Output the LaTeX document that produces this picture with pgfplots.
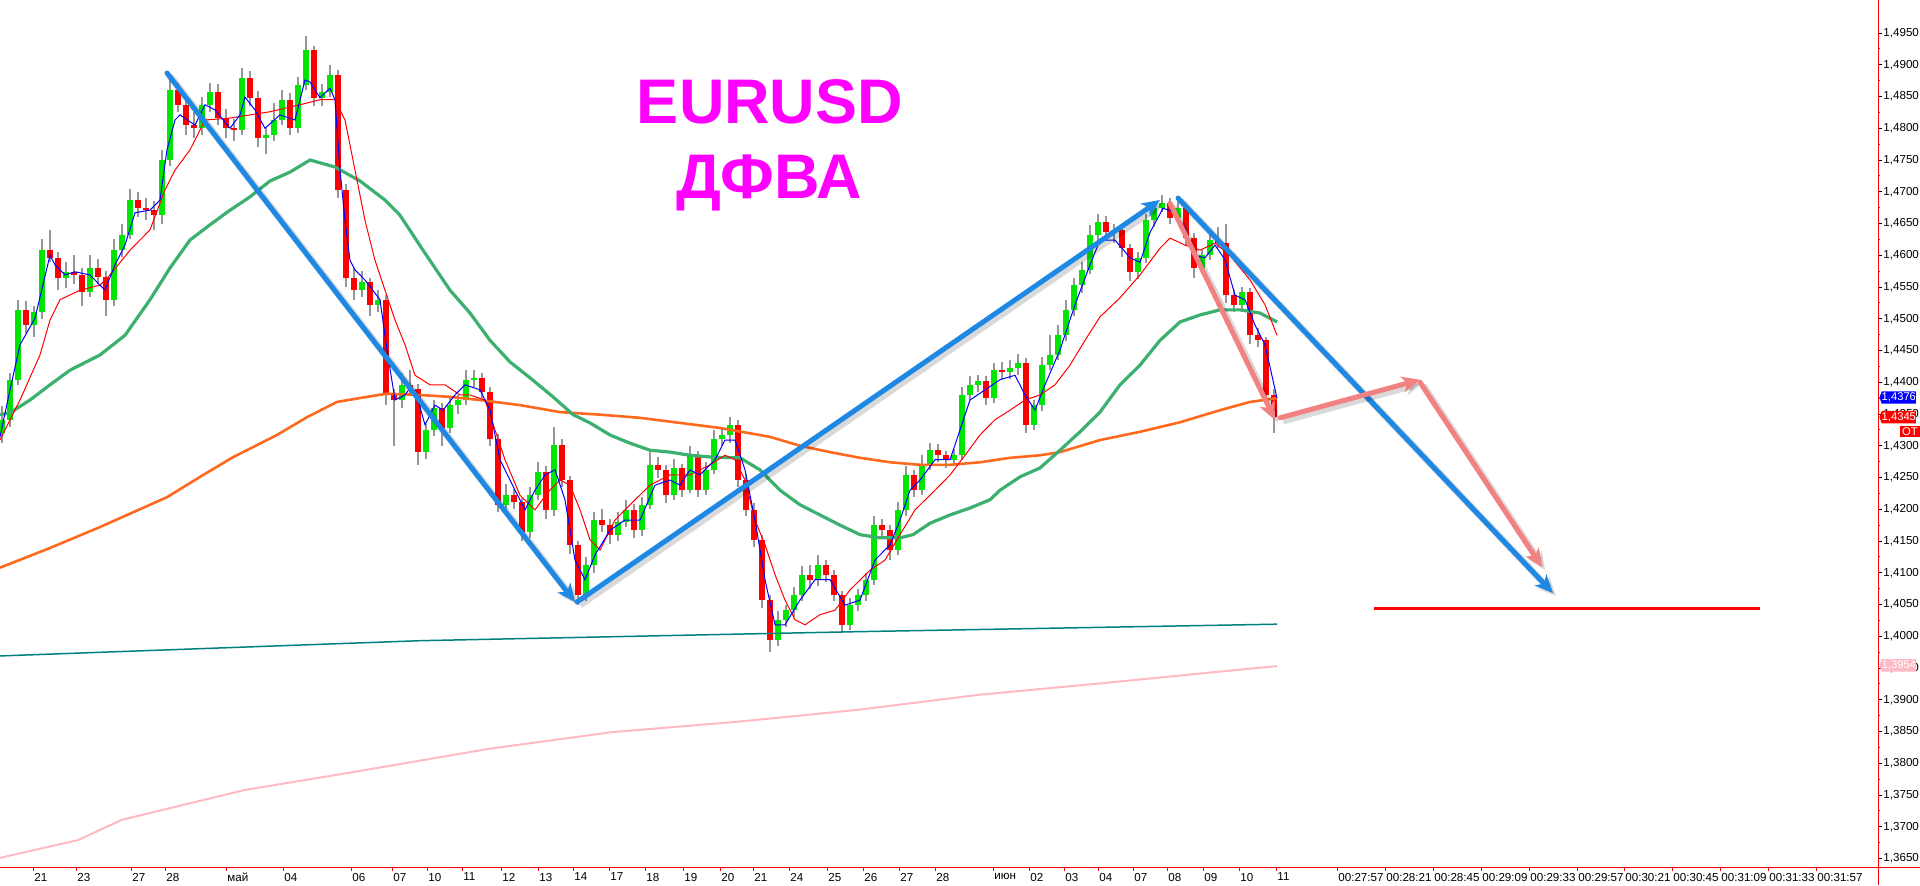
\documentclass[border=0pt]{standalone}
\usepackage{fontspec}
\setmainfont{Liberation Sans}
\usepackage{pgfplots}
\pgfplotsset{compat=1.18}
\usepackage{pgfplotstable}
\usetikzlibrary{arrows.meta,shapes.symbols}

\definecolor{candleup}{RGB}{0,230,0}
\definecolor{candledn}{RGB}{255,0,0}
\definecolor{wick}{RGB}{150,150,150}
\definecolor{maBlue}{RGB}{0,0,255}
\definecolor{maRed}{RGB}{255,0,0}
\definecolor{maGreen}{RGB}{60,176,110}
\definecolor{maOrange}{RGB}{255,105,30}
\definecolor{maTeal}{RGB}{0,128,128}
\definecolor{maPink}{RGB}{255,185,195}
\definecolor{arrBlue}{RGB}{30,136,229}
\definecolor{arrPink}{RGB}{242,130,130}
\definecolor{titlecol}{RGB}{255,0,255}

% 4h candles, x in screen columns
\pgfplotstableread{
x o h l c
2 1.4320 1.4362 1.4305 1.4341
10 1.4341 1.4415 1.4330 1.4404
18 1.4404 1.4530 1.4395 1.4514
26 1.4514 1.4528 1.4478 1.4490
34 1.4490 1.4520 1.4472 1.4511
42 1.4511 1.4625 1.4500 1.4608
50 1.4608 1.4640 1.4590 1.4596
58 1.4596 1.4605 1.4545 1.4564
66 1.4564 1.4590 1.4548 1.4574
74 1.4574 1.4600 1.4555 1.4569
82 1.4569 1.4580 1.4520 1.4542
90 1.4542 1.4600 1.4535 1.4580
98 1.4580 1.4595 1.4555 1.4566
106 1.4566 1.4575 1.4505 1.4530
114 1.4530 1.4625 1.4520 1.4608
122 1.4608 1.4650 1.4598 1.4632
130 1.4632 1.4705 1.4625 1.4687
138 1.4687 1.4700 1.4660 1.4674
146 1.4674 1.4690 1.4655 1.4671
154 1.4671 1.4685 1.4640 1.4663
162 1.4663 1.4765 1.4650 1.4750
170 1.4750 1.4880 1.4740 1.4860
178 1.4860 1.4872 1.4825 1.4837
186 1.4837 1.4850 1.4790 1.4805
194 1.4805 1.4825 1.4785 1.4800
202 1.4800 1.4850 1.4790 1.4837
210 1.4837 1.4872 1.4825 1.4857
218 1.4857 1.4870 1.4805 1.4816
226 1.4816 1.4830 1.4785 1.4800
234 1.4800 1.4815 1.4780 1.4797
242 1.4797 1.4895 1.4790 1.4879
250 1.4879 1.4890 1.4835 1.4848
258 1.4848 1.4858 1.4770 1.4785
266 1.4785 1.4800 1.4760 1.4789
274 1.4789 1.4840 1.4780 1.4813
282 1.4813 1.4860 1.4805 1.4845
290 1.4845 1.4855 1.4790 1.4800
298 1.4800 1.4880 1.4792 1.4868
306 1.4868 1.4945 1.4860 1.4923
314 1.4923 1.4930 1.4835 1.4848
322 1.4848 1.4870 1.4835 1.4857
330 1.4857 1.4900 1.4850 1.4884
338 1.4884 1.4892 1.4690 1.4703
346 1.4703 1.4712 1.4550 1.4564
354 1.4564 1.4580 1.4530 1.4545
362 1.4545 1.4575 1.4535 1.4558
370 1.4558 1.4565 1.4505 1.4522
378 1.4522 1.4545 1.4510 1.4530
386 1.4530 1.4538 1.4365 1.4380
394 1.4380 1.4390 1.4300 1.4372
402 1.4372 1.4415 1.4360 1.4396
410 1.4396 1.4420 1.4380 1.4390
418 1.4390 1.4398 1.4270 1.4290
426 1.4290 1.4335 1.4280 1.4325
434 1.4325 1.4372 1.4315 1.4360
442 1.4360 1.4368 1.4300 1.4328
450 1.4328 1.4375 1.4320 1.4364
458 1.4364 1.4380 1.4350 1.4372
466 1.4372 1.4420 1.4365 1.4404
474 1.4404 1.4420 1.4392 1.4407
482 1.4407 1.4415 1.4375 1.4385
490 1.4385 1.4392 1.4300 1.4311
498 1.4311 1.4318 1.4195 1.4207
506 1.4207 1.4240 1.4198 1.4222
514 1.4222 1.4232 1.4200 1.4211
522 1.4211 1.4218 1.4150 1.4164
530 1.4164 1.4235 1.4155 1.4222
538 1.4222 1.4275 1.4215 1.4259
546 1.4259 1.4268 1.4185 1.4199
554 1.4199 1.4330 1.4190 1.4301
562 1.4301 1.4310 1.4235 1.4246
570 1.4246 1.4252 1.4130 1.4144
578 1.4144 1.4150 1.4050 1.4065
586 1.4065 1.4125 1.4055 1.4112
594 1.4112 1.4195 1.4100 1.4183
602 1.4183 1.4200 1.4165 1.4175
610 1.4175 1.4185 1.4145 1.4160
618 1.4160 1.4195 1.4150 1.4180
626 1.4180 1.4215 1.4172 1.4199
634 1.4199 1.4208 1.4155 1.4167
642 1.4167 1.4220 1.4158 1.4207
650 1.4207 1.4290 1.4200 1.4270
658 1.4270 1.4282 1.4250 1.4262
666 1.4262 1.4270 1.4210 1.4222
674 1.4222 1.4280 1.4215 1.4265
682 1.4265 1.4272 1.4220 1.4230
690 1.4230 1.4300 1.4225 1.4285
698 1.4285 1.4292 1.4220 1.4230
706 1.4230 1.4275 1.4222 1.4262
714 1.4262 1.4325 1.4255 1.4311
722 1.4311 1.4328 1.4300 1.4317
730 1.4317 1.4345 1.4305 1.4333
738 1.4333 1.4340 1.4235 1.4246
746 1.4246 1.4255 1.4190 1.4199
754 1.4199 1.4210 1.4140 1.4152
762 1.4152 1.4160 1.4045 1.4057
770 1.4057 1.4065 1.3975 1.3994
778 1.3994 1.4040 1.3985 1.4026
786 1.4026 1.4050 1.4015 1.4041
794 1.4041 1.4078 1.4030 1.4065
802 1.4065 1.4110 1.4055 1.4097
810 1.4097 1.4112 1.4075 1.4089
818 1.4089 1.4128 1.4080 1.4112
826 1.4112 1.4120 1.4085 1.4097
834 1.4097 1.4105 1.4055 1.4065
842 1.4065 1.4072 1.4005 1.4018
850 1.4018 1.4060 1.4010 1.4049
858 1.4049 1.4075 1.4040 1.4065
866 1.4065 1.4100 1.4055 1.4089
874 1.4089 1.4190 1.4080 1.4175
882 1.4175 1.4185 1.4155 1.4167
890 1.4167 1.4175 1.4120 1.4136
898 1.4136 1.4212 1.4128 1.4199
906 1.4199 1.4268 1.4190 1.4254
914 1.4254 1.4262 1.4220 1.4230
922 1.4230 1.4285 1.4222 1.4270
930 1.4270 1.4305 1.4262 1.4293
938 1.4293 1.4302 1.4275 1.4285
946 1.4285 1.4292 1.4265 1.4278
954 1.4278 1.4295 1.4270 1.4285
962 1.4285 1.4392 1.4278 1.4380
970 1.4380 1.4410 1.4372 1.4396
978 1.4396 1.4412 1.4385 1.4402
986 1.4402 1.4410 1.4365 1.4375
994 1.4375 1.4430 1.4368 1.4419
1002 1.4419 1.4432 1.4405 1.4416
1010 1.4416 1.4435 1.4405 1.4422
1018 1.4422 1.4445 1.4412 1.4430
1026 1.4430 1.4438 1.4320 1.4333
1034 1.4333 1.4372 1.4325 1.4364
1042 1.4364 1.4440 1.4355 1.4427
1050 1.4427 1.4475 1.4420 1.4443
1058 1.4443 1.4490 1.4435 1.4474
1066 1.4474 1.4530 1.4465 1.4514
1074 1.4514 1.4565 1.4505 1.4553
1082 1.4553 1.4590 1.4540 1.4577
1090 1.4577 1.4648 1.4570 1.4632
1098 1.4632 1.4665 1.4620 1.4652
1106 1.4652 1.4662 1.4625 1.4636
1114 1.4636 1.4650 1.4620 1.4640
1122 1.4640 1.4645 1.4598 1.4611
1130 1.4611 1.4618 1.4560 1.4574
1138 1.4574 1.4605 1.4562 1.4596
1146 1.4596 1.4665 1.4588 1.4655
1154 1.4655 1.4685 1.4645 1.4674
1162 1.4674 1.4695 1.4668 1.4682
1170 1.4682 1.4690 1.4650 1.4659
1178 1.4659 1.4685 1.4652 1.4674
1186 1.4674 1.4680 1.4615 1.4627
1194 1.4627 1.4635 1.4565 1.4580
1202 1.4580 1.4610 1.4570 1.4600
1210 1.4600 1.4632 1.4592 1.4624
1218 1.4624 1.4645 1.4612 1.4620
1226 1.4620 1.4650 1.4525 1.4538
1234 1.4538 1.4545 1.4510 1.4522
1242 1.4522 1.4550 1.4515 1.4542
1250 1.4542 1.4548 1.4460 1.4474
1258 1.4474 1.4485 1.4455 1.4466
1266 1.4466 1.4472 1.4370 1.4380
1274 1.4380 1.4390 1.4320 1.4345
}\candles

\tikzset{
  arr/.style={line width=2.5pt, line cap=round, -{Stealth[length=9pt,width=8pt,inset=2.5pt]}},
  shad/.style={line width=3.5pt, black, opacity=0.15, xshift=1.5pt, yshift=-1.5pt, -{Stealth[length=9pt,width=8pt,inset=2.5pt]}},
}

\begin{document}
\begin{tikzpicture}
\begin{axis}[
  scale only axis, width=939pt, height=433.5pt,
  xmin=0, xmax=1878, ymin=1.36366, ymax=1.50020,
  axis x line*=bottom, axis y line*=right,
  axis line style={draw=red, line width=0.5pt, -},
  clip=false,
  tick align=outside,
  major tick length=2pt, minor tick length=1pt,
  ticklabel style={font=\fontsize{5.8}{6}\selectfont},
  ytick={1.365,1.370,1.375,1.380,1.385,1.390,1.395,1.400,1.405,1.410,1.415,1.420,1.425,1.430,1.435,1.440,1.445,1.450,1.455,1.460,1.465,1.470,1.475,1.480,1.485,1.490,1.495},
  minor y tick num=1,
  y tick style={draw=black, line width=0.5pt},
  minor y tick style={draw=red},
  yticklabel={\pgfmathprintnumber[fixed, fixed zerofill, precision=4, use comma, assume math mode=true]{\tick}},
  yticklabel style={anchor=west, inner sep=0pt, xshift=0.5pt},
  xtick={33,76,131,165,226,283,351,392,427,462,501,538,573,609,645,683,720,753,789,827,863,899,935,993,1029,1064,1098,1133,1167,1203,1239,1276,1337,1385,1433,1481,1529,1577,1624,1672,1720,1768,1816},
  xticklabels={21,23,27,28,май,04,06,07,10,11,12,13,14,17,18,19,20,21,24,25,26,27,28,июн,02,03,04,07,08,09,10,11,00:27:57,00:28:21,00:28:45,00:29:09,00:29:33,00:29:57,00:30:21,00:30:45,00:31:09,00:31:33,00:31:57},
  x tick style={draw=red, line width=0.5pt},
  xticklabel style={anchor=north west, inner sep=0pt, xshift=0.5pt, yshift=-0.8pt},
]

% wicks
\addplot[draw=none, mark=none, forget plot,
  error bars/.cd, y dir=both, y explicit, error mark=none,
  error bar style={draw=wick, line width=0.6pt}]
  table[x=x, y expr={(\thisrow{h}+\thisrow{l})/2}, y error expr={(\thisrow{h}-\thisrow{l})/2}] {\candles};
% bullish bodies
\addplot[draw=none, mark=none, forget plot, unbounded coords=discard,
  error bars/.cd, y dir=both, y explicit, error mark=none,
  error bar style={draw=candleup, line width=2.8pt}]
  table[x=x, y expr={\thisrow{c}>=\thisrow{o} ? (\thisrow{o}+\thisrow{c})/2 : nan}, y error expr={abs(\thisrow{c}-\thisrow{o})/2}] {\candles};
% bearish bodies
\addplot[draw=none, mark=none, forget plot, unbounded coords=discard,
  error bars/.cd, y dir=both, y explicit, error mark=none,
  error bar style={draw=candledn, line width=2.8pt}]
  table[x=x, y expr={\thisrow{c}<\thisrow{o} ? (\thisrow{o}+\thisrow{c})/2 : nan}, y error expr={abs(\thisrow{c}-\thisrow{o})/2}] {\candles};

% long moving averages
\addplot[maPink, line width=1pt] coordinates {(0,1.3651) (78,1.3679) (122,1.3711) (245,1.3758) (349,1.3785) (490,1.3823) (612,1.3849) (735,1.3865) (857,1.3884) (980,1.3908) (1102,1.3926) (1224,1.3945) (1277,1.3953)};
\addplot[maTeal, line width=0.75pt] coordinates {(0,1.3969) (420,1.3993) (850,1.4007) (1277,1.4019)};
\addplot[maOrange, line width=1.3pt] coordinates {(0,1.4108) (50,1.4139) (100,1.4172) (167,1.4219) (200,1.4251) (233,1.4282) (277,1.4317) (307,1.4345) (337,1.4369) (367,1.4377) (387,1.4382) (420,1.4380) (450,1.4377) (480,1.4372) (520,1.4364) (560,1.4353) (600,1.4349) (640,1.4344) (680,1.4336) (720,1.4328) (770,1.4314) (800,1.4300) (830,1.4290) (860,1.4281) (890,1.4274) (920,1.4270) (950,1.4270) (980,1.4274) (1010,1.4281) (1040,1.4285) (1060,1.4290) (1100,1.4309) (1140,1.4322) (1180,1.4337) (1220,1.4356) (1250,1.4369) (1277,1.4375)};
\addplot[maGreen, line width=1.6pt] coordinates {(0,1.4349) (10,1.4352) (30,1.4372) (50,1.4396) (70,1.4419) (100,1.4443) (125,1.4474) (150,1.4530) (170,1.4580) (190,1.4624) (210,1.4648) (230,1.4671) (250,1.4692) (270,1.4717) (290,1.4731) (310,1.4750) (335,1.4739) (360,1.4717) (385,1.4687) (400,1.4663) (423,1.4608) (450,1.4545) (470,1.4509) (490,1.4466) (510,1.4432) (530,1.4407) (553,1.4377) (573,1.4349) (590,1.4336) (610,1.4317) (630,1.4304) (650,1.4293) (670,1.4290) (690,1.4285) (713,1.4282) (740,1.4281) (760,1.4262) (780,1.4230) (800,1.4207) (820,1.4191) (840,1.4175) (860,1.4160) (880,1.4155) (900,1.4155) (913,1.4160) (930,1.4178) (950,1.4191) (970,1.4202) (990,1.4215) (1000,1.4230) (1020,1.4251) (1040,1.4265) (1060,1.4293) (1080,1.4322) (1100,1.4353) (1120,1.4396) (1140,1.4427) (1160,1.4466) (1180,1.4495) (1200,1.4506) (1220,1.4514) (1240,1.4514) (1260,1.4509) (1277,1.4495)};
% short moving averages
\addplot[maRed, line width=0.5pt] coordinates {(0,1.4309) (20,1.4372) (40,1.4443) (50,1.4498) (60,1.4530) (80,1.4545) (100,1.4553) (110,1.4569) (130,1.4608) (150,1.4640) (165,1.4703) (175,1.4734) (190,1.4766) (205,1.4813) (230,1.4816) (250,1.4821) (270,1.4826) (300,1.4837) (320,1.4845) (335,1.4845) (345,1.4813) (355,1.4734) (365,1.4655) (375,1.4592) (385,1.4545) (395,1.4498) (405,1.4459) (415,1.4411) (430,1.4396) (445,1.4396) (460,1.4380) (470,1.4380) (485,1.4372) (495,1.4325) (505,1.4278) (520,1.4222) (535,1.4199) (548,1.4227) (560,1.4246) (570,1.4238) (580,1.4199) (590,1.4152) (600,1.4136) (615,1.4183) (630,1.4207) (650,1.4238) (670,1.4254) (690,1.4254) (710,1.4270) (725,1.4285) (735,1.4278) (745,1.4246) (755,1.4183) (765,1.4144) (775,1.4097) (785,1.4057) (795,1.4026) (805,1.4018) (820,1.4034) (835,1.4041) (850,1.4073) (870,1.4104) (885,1.4120) (900,1.4160) (915,1.4199) (935,1.4230) (950,1.4254) (965,1.4285) (980,1.4317) (995,1.4341) (1010,1.4356) (1025,1.4372) (1040,1.4380) (1055,1.4396) (1070,1.4427) (1085,1.4466) (1100,1.4503) (1120,1.4533) (1140,1.4569) (1160,1.4611) (1170,1.4627) (1185,1.4616) (1200,1.4608) (1215,1.4619) (1230,1.4600) (1250,1.4561) (1265,1.4522) (1277,1.4474)};
\addplot[maBlue, line width=0.5pt] coordinates {(0,1.4314) (10,1.4388) (20,1.4459) (35,1.4501) (50,1.4600) (55,1.4585) (65,1.4569) (75,1.4574) (90,1.4569) (105,1.4545) (115,1.4585) (125,1.4616) (135,1.4667) (150,1.4671) (160,1.4687) (167,1.4766) (175,1.4813) (180,1.4821) (195,1.4805) (205,1.4837) (215,1.4829) (230,1.4800) (240,1.4821) (245,1.4849) (255,1.4829) (265,1.4800) (280,1.4821) (295,1.4813) (305,1.4876) (310,1.4873) (320,1.4848) (330,1.4863) (335,1.4845) (340,1.4734) (345,1.4655) (350,1.4592) (355,1.4577) (365,1.4561) (380,1.4530) (387,1.4451) (395,1.4372) (405,1.4380) (410,1.4391) (418,1.4372) (425,1.4333) (435,1.4364) (443,1.4356) (455,1.4380) (465,1.4396) (480,1.4388) (490,1.4356) (500,1.4278) (515,1.4230) (525,1.4199) (535,1.4230) (545,1.4254) (555,1.4262) (565,1.4215) (575,1.4120) (585,1.4089) (595,1.4128) (610,1.4167) (625,1.4183) (640,1.4183) (655,1.4238) (670,1.4246) (680,1.4238) (690,1.4262) (700,1.4254) (715,1.4278) (725,1.4309) (735,1.4309) (745,1.4262) (755,1.4183) (765,1.4089) (775,1.4018) (785,1.4018) (800,1.4057) (815,1.4089) (830,1.4089) (845,1.4049) (860,1.4057) (875,1.4120) (890,1.4144) (900,1.4183) (910,1.4230) (920,1.4246) (935,1.4278) (950,1.4278) (960,1.4325) (970,1.4372) (985,1.4388) (1000,1.4404) (1015,1.4411) (1025,1.4380) (1035,1.4356) (1045,1.4396) (1060,1.4451) (1075,1.4522) (1090,1.4585) (1100,1.4624) (1115,1.4624) (1130,1.4596) (1140,1.4589) (1150,1.4636) (1163,1.4674) (1175,1.4668) (1185,1.4643) (1195,1.4600) (1205,1.4596) (1215,1.4616) (1225,1.4593) (1235,1.4537) (1245,1.4530) (1255,1.4490) (1265,1.4459) (1277,1.4375)};

% hand-drawn wave arrows
\draw[shad] (axis cs:167,1.4887) -- (axis cs:575,1.4054);
\draw[arr, arrBlue] (axis cs:167,1.4887) -- (axis cs:575,1.4054);
\draw[shad] (axis cs:577,1.4054) -- (axis cs:1160,1.4687);
\draw[arr, arrBlue] (axis cs:577,1.4054) -- (axis cs:1160,1.4687);
\draw[shad] (axis cs:1178,1.4690) -- (axis cs:1553,1.4068);
\draw[arr, arrBlue] (axis cs:1178,1.4690) -- (axis cs:1553,1.4068);
\draw[shad] (axis cs:1170,1.4682) -- (axis cs:1275,1.4341);
\draw[arr, arrPink] (axis cs:1170,1.4682) -- (axis cs:1275,1.4341);
\draw[shad] (axis cs:1280,1.4344) -- (axis cs:1420,1.4404);
\draw[arr, arrPink] (axis cs:1280,1.4344) -- (axis cs:1420,1.4404);
\draw[shad] (axis cs:1420,1.4400) -- (axis cs:1542,1.4109);
\draw[arr, arrPink] (axis cs:1420,1.4400) -- (axis cs:1542,1.4109);
\draw[red, line width=1.5pt] (axis cs:1374,1.4043) -- (axis cs:1760,1.4043);

% title
\node[anchor=base, text=titlecol, font=\fontsize{31.5}{36}\selectfont\bfseries] at (axis cs:770,1.4808) {EURUSD};
\node[anchor=base, text=titlecol, font=\fontsize{31.5}{36}\selectfont\bfseries] at (axis cs:769,1.4689) {ДФВА};

% price tags on the scale
\tikzset{tag/.style={signal, signal to=west, signal pointer angle=140, text=white, inner xsep=0pt, inner ysep=0.8pt, anchor=west, font=\fontsize{5.6}{6}\selectfont}}
\node[tag, fill=blue] at (axis cs:1879,1.4376) {1,4376};
\node[tag, fill=red] at (axis cs:1879,1.4345) {1,4345};
\node[fill=red, text=white, inner xsep=1pt, inner ysep=0.8pt, anchor=east, font=\fontsize{5.6}{6}\selectfont] at (axis cs:1920,1.4322) {OT};
\node[tag, fill=maPink] at (axis cs:1879,1.3954) {1,3954};
\end{axis}
\draw[red, line width=0.5pt] (939pt,0) -- (939pt,-9pt);
\draw[red, line width=0.5pt] (939pt,0) -- (960pt,0);
\pgfresetboundingbox
\useasboundingbox (0,-9pt) rectangle (960pt,433.5pt);
\end{tikzpicture}
\end{document}
